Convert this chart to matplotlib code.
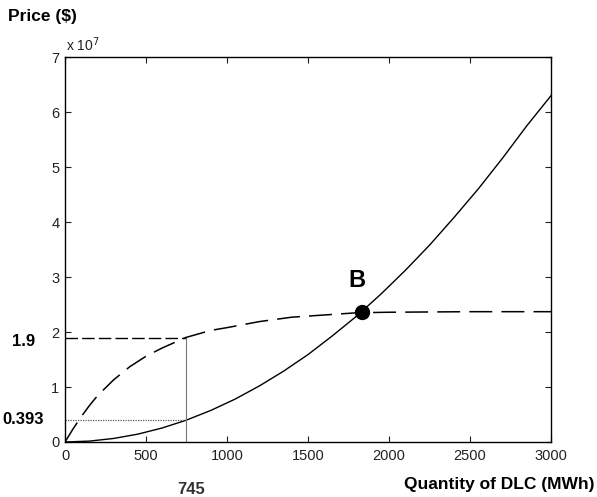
import matplotlib
matplotlib.use("Agg")
import matplotlib.pyplot as plt

plt.rcParams['font.family'] = ['Liberation Sans', 'DejaVu Sans']

# Cost curve (solid), values in units of 1e7 $
cost_q = [0, 150, 300, 450, 600, 745, 900, 1050, 1200, 1350, 1500, 1650, 1800,
          1950, 2100, 2250, 2400, 2550, 2700, 2850, 3000]
cost_p = [0, 0.016, 0.064, 0.143, 0.255, 0.393, 0.574, 0.78, 1.02, 1.29, 1.59,
          1.93, 2.29, 2.69, 3.12, 3.58, 4.08, 4.60, 5.16, 5.75, 6.30]

# Benefit curve (dashed), values in units of 1e7 $
ben_q = [0, 50, 100, 150, 200, 300, 400, 500, 600, 745, 900, 1000, 1200, 1400,
         1600, 1800, 2000, 2500, 3000]
ben_p = [0, 0.24, 0.46, 0.66, 0.84, 1.13, 1.37, 1.56, 1.71, 1.90, 2.03, 2.08,
         2.19, 2.27, 2.31, 2.35, 2.36, 2.37, 2.37]

point_b = (1833, 2.37)
q_star = 745
p_benefit = 1.9
p_cost = 0.393

xticks = [0, 500, 1000, 1500, 2000, 2500, 3000]
yticks = [0, 1, 2, 3, 4, 5, 6, 7]

fig = plt.figure(figsize=(5.97, 4.97), dpi=100)
ax = fig.add_axes([0.1089, 0.1107, 0.8141, 0.7743])

ax.plot(cost_q, cost_p, color='black', lw=1.0)
ax.plot(ben_q, ben_p, color='black', lw=1.1, dashes=(15, 6))
ax.plot([0, q_star], [p_benefit, p_benefit], color='black', lw=1.0, dashes=(9, 3))
ax.plot([0, q_star], [p_cost, p_cost], color='#555555', lw=0.9, linestyle=(0, (1, 1)))
ax.plot([q_star, q_star], [0, p_benefit], color='#777777', lw=0.8)
ax.plot([point_b[0]], [point_b[1]], 'o', color='black', markersize=10)
ax.text(1802, 2.93, 'B', fontsize=17, fontweight='bold', ha='center', va='center')

ax.set_xlim(0, 3000)
ax.set_ylim(0, 7)
ax.set_xticks(xticks)
ax.set_yticks(yticks)
ax.tick_params(direction='in', top=True, right=True, length=4, width=0.8,
               labelsize=10.5, colors='#222222')
ax.tick_params(axis='x', pad=5)
ax.tick_params(axis='y', pad=4)
for s in ax.spines.values():
    s.set_linewidth(1.0)

fig.text(8/597, 1 - 17/497, 'Price ($)', fontsize=12.5, fontweight='bold', va='center', ha='left')
fig.text(66/597, 1 - 45/497, r'x 10$^{7}$', fontsize=10, va='center', ha='left', color='#222222')
fig.text(35/597, 1 - 341/497, '1.9', fontsize=12, fontweight='bold', va='center', ha='right')
fig.text(44/597, 1 - 420/497, '0.393', fontsize=12, fontweight='bold', va='center', ha='right')
fig.text(191/597, 1 - 489/497, '745', fontsize=12, fontweight='bold', va='center', ha='center', color='#333333')
fig.text(595/597, 1 - 484/497, 'Quantity of DLC (MWh)', fontsize=12.5, fontweight='bold', va='center', ha='right')

fig.savefig('out.png', dpi=100)
